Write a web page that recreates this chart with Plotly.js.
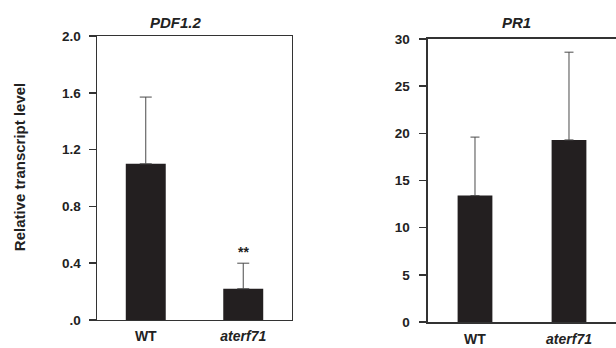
<!DOCTYPE html>
<html>
<head>
<meta charset="utf-8">
<script src="https://cdn.plot.ly/plotly-3.0.1.min.js"></script>
<style>
html,body{margin:0;padding:0;background:#fff;overflow:hidden;}
#chart{width:616px;height:348px;}
</style>
</head>
<body>
<div id="chart"></div>
<script>
// Data
const categories = ['WT', 'aterf71'];
const categoryLabels = ['<b>WT</b>', '<b><i>aterf71</i></b>'];
const pdf12Values = [1.10, 0.22];
const pdf12ErrUp = [0.47, 0.18];
const pdf12Signif = ['', '**'];
const pr1Values = [13.4, 19.3];
const pr1ErrUp = [6.2, 9.3];
const pdfTickVals = [0, 0.4, 0.8, 1.2, 1.6, 2.0];
const pdfTickText = ['.0', '0.4', '0.8', '1.2', '1.6', '2.0'];
const pr1TickVals = [0, 5, 10, 15, 20, 25, 30];
const pr1TickText = ['0', '5', '10', '15', '20', '25', '30'];

const barColor = '#231f20';
const errColor = '#4a4a4a';
const axisColor = '#333333';
const font = 'Liberation Sans, Arial, Helvetica, sans-serif';
const bold = arr => arr.map(t => '<b>' + t + '</b>');

const traces = [
  {
    type: 'bar', x: categories, y: pdf12Values, xaxis: 'x', yaxis: 'y',
    width: 0.41, marker: {color: barColor, line: {width: 0}},
    error_y: {type: 'data', array: pdf12ErrUp, arrayminus: [0, 0], symmetric: false,
              color: errColor, thickness: 1, width: 6},
    hoverinfo: 'none', showlegend: false
  },
  {
    type: 'bar', x: categories, y: pr1Values, xaxis: 'x2', yaxis: 'y2',
    width: 0.37, marker: {color: barColor, line: {width: 0}},
    error_y: {type: 'data', array: pr1ErrUp, arrayminus: [0, 0], symmetric: false,
              color: errColor, thickness: 1, width: 4.5},
    hoverinfo: 'none', showlegend: false
  }
];

const annotations = [];
categories.forEach((c, i) => {
  if (pdf12Signif[i]) {
    annotations.push({
      xref: 'x', yref: 'y', x: c, y: pdf12Values[i] + pdf12ErrUp[i],
      text: '<b>' + pdf12Signif[i] + '</b>', showarrow: false,
      yanchor: 'bottom', yshift: 1, font: {family: font, size: 14, color: '#222'}
    });
  }
});
annotations.push({
  xref: 'paper', yref: 'paper', x: 0.031, y: 0.52, xanchor: 'center', yanchor: 'middle',
  text: '<b>Relative transcript level</b>', textangle: -90, showarrow: false,
  font: {family: font, size: 15, color: '#222'}
});
annotations.push({
  xref: 'paper', yref: 'paper', x: 0.2857, y: 0.934, xanchor: 'center', yanchor: 'middle',
  text: '<b><i>PDF1.2</i></b>', showarrow: false,
  font: {family: font, size: 15, color: '#222'}
});
annotations.push({
  xref: 'paper', yref: 'paper', x: 0.839, y: 0.934, xanchor: 'center', yanchor: 'middle',
  text: '<b><i>PR1</i></b>', showarrow: false,
  font: {family: font, size: 15, color: '#222'}
});

const commonX = {
  type: 'category', range: [-0.5, 1.5], showgrid: false, zeroline: false,
  showline: true, linecolor: axisColor, linewidth: 1.5, mirror: true,
  ticks: '', tickvals: categories, ticktext: categoryLabels,
  tickfont: {family: font, size: 14, color: '#222'}, fixedrange: true
};
const commonY = {
  showgrid: false, zeroline: false, showline: true, linecolor: axisColor, linewidth: 1.5,
  ticks: 'outside', ticklen: 7, tickcolor: axisColor, tickwidth: 1.5,
  tickfont: {family: font, size: 13.5, color: '#222'}, fixedrange: true
};

const layout = {
  width: 616, height: 348,
  margin: {l: 0, r: 0, t: 0, b: 0},
  paper_bgcolor: '#fff', plot_bgcolor: '#fff',
  xaxis: Object.assign({}, commonX, {domain: [0.1575, 0.474], anchor: 'y', ticklabelstandoff: 3}),
  yaxis: Object.assign({}, commonY, {
    domain: [0.0805, 0.8965], range: [0, 2.0], anchor: 'x', mirror: true,
    tickvals: pdfTickVals, ticktext: bold(pdfTickText), ticklabelstandoff: 5
  }),
  xaxis2: Object.assign({}, commonX, {domain: [0.6948, 1], anchor: 'y2', ticklabelstandoff: 4}),
  yaxis2: Object.assign({}, commonY, {
    domain: [0.0747, 0.888], range: [0, 30], anchor: 'x2', mirror: false,
    tickvals: pr1TickVals, ticktext: bold(pr1TickText), ticklabelstandoff: 7
  }),
  annotations: annotations,
  font: {family: font, color: '#222'}
};

Plotly.newPlot('chart', traces, layout, {displayModeBar: false, staticPlot: true});
</script>
</body>
</html>
